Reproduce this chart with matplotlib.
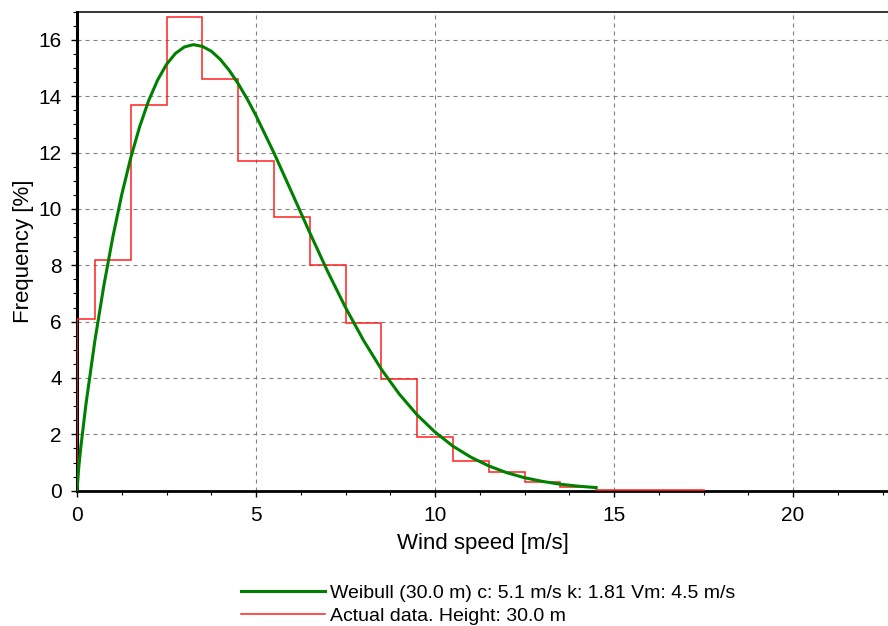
## Wind speed frequency distribution: measured histogram vs Weibull fit
import numpy as np
import matplotlib
matplotlib.use("Agg")
import matplotlib.pyplot as plt
from matplotlib.ticker import MultipleLocator

plt.rcParams['font.family'] = ['Liberation Sans', 'DejaVu Sans']

## Measured data (bins centred on whole m/s, first bin 0-0.5)
bin_edges = [0, 0.5, 1.5, 2.5, 3.5, 4.5, 5.5, 6.5, 7.5, 8.5, 9.5,
             10.5, 11.5, 12.5, 13.5, 14.5, 17.5]
actual_freq = [6.1, 8.2, 13.7, 16.8, 14.6, 11.7, 9.7, 8.0, 5.95, 3.97, 1.9,
               1.07, 0.66, 0.31, 0.14, 0.03]

## Weibull curve
weib_speed = [0, 0.05, 0.1, 0.25, 0.5, 0.75, 1.0, 1.25, 1.5, 1.75, 2.0, 2.25,
              2.5, 2.75, 3.0, 3.25, 3.5, 3.75, 4.0, 4.25, 4.5, 4.75, 5.0, 5.5,
              6.0, 6.5, 7.0, 7.5, 8.0, 8.5, 9.0, 9.5, 10.0, 10.5, 11.0, 11.5,
              12.0, 12.5, 13.0, 13.5, 14.0, 14.5]
weib_freq = [0, 0.84, 1.47, 3.07, 5.33, 7.28, 9.0, 10.51, 11.81, 12.92, 13.84,
             14.57, 15.13, 15.52, 15.75, 15.83, 15.77, 15.6, 15.31, 14.92,
             14.45, 13.91, 13.31, 11.99, 10.58, 9.16, 7.78, 6.5, 5.34, 4.31,
             3.43, 2.69, 2.08, 1.58, 1.19, 0.88, 0.64, 0.46, 0.33, 0.23, 0.16,
             0.11]

weib_label = "Weibull (30.0 m) c: 5.1 m/s k: 1.81 Vm: 4.5 m/s"
actual_label = "Actual data. Height: 30.0 m"

fig = plt.figure(figsize=(8.88, 6.26), dpi=100)
ax = fig.add_axes([77 / 888., 1 - 490.7 / 626., 1 - 77 / 888., (490.7 - 11.7) / 626.])

h_act = ax.stairs(actual_freq, bin_edges, baseline=0, fill=False,
                  color='#ff2020', linewidth=1.1, zorder=3)
h_weib, = ax.plot(weib_speed, weib_freq, color='#008000', linewidth=2.2, zorder=4)

ax.set_xlim(0, 22.65)
ax.set_ylim(0, 17)
ax.xaxis.set_major_locator(MultipleLocator(5))
ax.xaxis.set_minor_locator(MultipleLocator(1.25))
ax.yaxis.set_major_locator(MultipleLocator(2))
ax.yaxis.set_minor_locator(MultipleLocator(0.5))

ax.grid(True, which='major', color='#808080', linestyle=(0, (3.6, 3.6)), linewidth=0.8)
ax.set_axisbelow(True)

ax.spines['right'].set_visible(False)
ax.spines['left'].set_linewidth(2.2)
ax.spines['bottom'].set_linewidth(2.0)
ax.spines['top'].set_linewidth(1.1)

ax.tick_params(which='major', direction='out', length=4, width=1, labelsize=15, pad=7)
ax.tick_params(which='minor', direction='out', length=3, width=0.8)

ax.set_xlabel("Wind speed [m/s]", fontsize=16, labelpad=6)
ax.set_ylabel("Frequency [%]", fontsize=16, labelpad=3)

fig.legend([h_weib, h_act], [weib_label, actual_label], loc='upper left',
           bbox_to_anchor=(241 / 888., 1 - 584 / 626.), frameon=False,
           fontsize=14, handlelength=4.3, handletextpad=0.3,
           labelspacing=0.3, borderpad=0, borderaxespad=0)

fig.savefig("out.png", dpi=100)
